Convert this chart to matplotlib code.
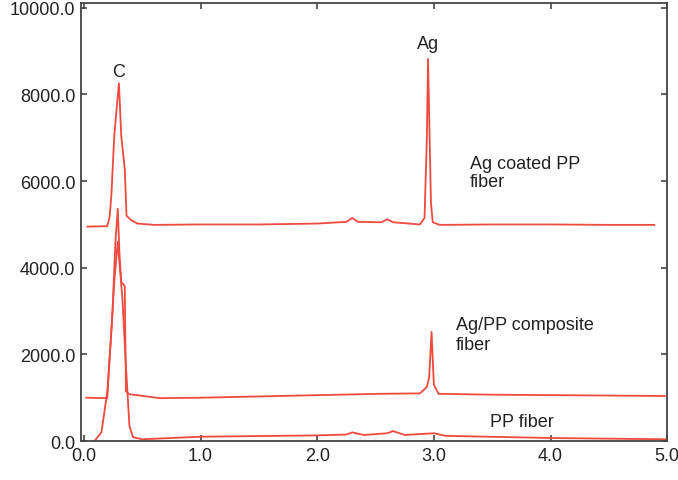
import matplotlib
matplotlib.use("Agg")
import matplotlib.pyplot as plt
from matplotlib.ticker import FormatStrFormatter

# Spectra (energy in keV, counts)
ag_coated_x = [0.03, 0.20, 0.22, 0.235, 0.26, 0.28, 0.30, 0.32, 0.35, 0.365, 0.405, 0.46, 0.6,
               1.0, 1.5, 2.0, 2.25, 2.3, 2.35, 2.55, 2.6, 2.65, 2.88, 2.92, 2.94, 2.95, 2.96,
               2.975, 2.99, 3.05, 3.5, 4.0, 4.5, 4.89]
ag_coated_y = [4950, 4960, 5170, 5660, 7040, 7670, 8260, 7040, 6280, 5200, 5100, 5020, 4990,
               5000, 5000, 5020, 5060, 5150, 5060, 5050, 5120, 5050, 5000, 5150, 7000, 8820, 7500,
               5500, 5050, 4990, 5000, 5000, 4990, 4990]

composite_x = [0.02, 0.20, 0.22, 0.245, 0.27, 0.29, 0.305, 0.32, 0.35, 0.36, 0.39, 0.48, 0.65,
               1.0, 1.85, 2.53, 2.88, 2.94, 2.96, 2.98, 3.0, 3.04, 3.5, 4.0, 4.5, 4.98]
composite_y = [1000, 990, 1890, 3000, 4600, 5360, 4300, 3670, 3580, 1150, 1080, 1050, 990,
               1000, 1050, 1090, 1100, 1250, 1480, 2520, 1300, 1090, 1070, 1060, 1050, 1040]

pp_x = [0.09, 0.15, 0.2, 0.235, 0.26, 0.29, 0.33, 0.36, 0.39, 0.42, 0.5, 1.0, 2.0, 2.25,
        2.3, 2.4, 2.6, 2.65, 2.75, 3.0, 3.1, 4.0, 5.0]
pp_y = [0, 200, 1130, 2520, 3670, 4600, 3280, 1730, 350, 90, 40, 100, 130, 150,
        200, 140, 180, 230, 140, 180, 120, 70, 40]

labels = ["C", "Ag", "Ag coated PP\nfiber", "Ag/PP composite\nfiber", "PP fiber"]

plt.rcParams['font.family'] = ['Liberation Sans', 'DejaVu Sans']
fig = plt.figure(figsize=(6.78, 4.81), dpi=100)
ax = fig.add_axes([0.1195, 0.081, 0.8645, 0.9105])

red = '#ee4a3e'
ax.plot(ag_coated_x, ag_coated_y, color=red, lw=1.3)
ax.plot(composite_x, composite_y, color=red, lw=1.3)
ax.plot(pp_x, pp_y, color=red, lw=1.3)

txt = '#222222'
fs = 13
ax.text(0.30, 8540, labels[0], ha='center', va='center', fontsize=fs, color=txt)
ax.text(2.95, 9170, labels[1], ha='center', va='center', fontsize=fs, color=txt)
ax.text(3.31, 6600, labels[2], ha='left', va='top', fontsize=fs, color=txt, linespacing=1.05)
ax.text(3.19, 2880, labels[3], ha='left', va='top', fontsize=fs, color=txt, linespacing=1.2)
ax.text(3.48, 460, labels[4], ha='left', va='center', fontsize=fs, color=txt)

ax.set_xlim(-0.025, 5.0)
ax.set_ylim(0, 10110)
ax.set_xticks([0, 1, 2, 3, 4, 5])
ax.set_yticks([0, 2000, 4000, 6000, 8000, 10000])
ax.xaxis.set_major_formatter(FormatStrFormatter('%.1f'))
ax.yaxis.set_major_formatter(FormatStrFormatter('%.1f'))
ax.tick_params(direction='in', top=True, right=True, length=4, width=1.2,
               color='#444444', labelsize=fs, labelcolor=txt, pad=4)
for s in ax.spines.values():
    s.set_color('#444444')
    s.set_linewidth(1.3)

fig.savefig('out.png', dpi=100)
